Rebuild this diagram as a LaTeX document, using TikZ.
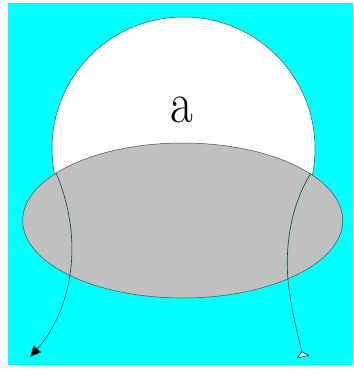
\documentclass[tikz,border=0pt]{standalone}
\usetikzlibrary{arrows.meta}
\definecolor{skycyan}{RGB}{0,255,255}
\definecolor{discgray}{RGB}{192,192,192}

\begin{document}
\begin{tikzpicture}[x=1pt,y=-1pt]

        % Frame and background
        \useasboundingbox (0,0) rectangle (353,374);
        \fill[white] (0,0) rectangle (353,374);
        \fill[skycyan] (8,3) rectangle (353,365);

        % Sphere
        \draw[black!70,fill=white,line width=0.5pt] (183.5,148.5) circle (131.5);
        \node[font=\fontsize{58}{58}\selectfont,xscale=0.85,transform shape] (alabel) at (182,110) {a};

        % Disc
        \draw[black!70,fill=discgray,line width=0.5pt] (182.7,220.5)
            ellipse [x radius=160, y radius=77.5];

        % Meeting points of sphere and disc
        \coordinate (leftcut) at (56,173);
        \coordinate (rightcut) at (311,173);
        \coordinate (lefttip) at (30,357);
        \coordinate (righttip) at (303,357);

        % Left curve with filled tip
        \draw[black!75!skycyan,line width=0.6pt,-{Triangle[length=11pt,width=10pt,fill=black]}]
            (leftcut) .. controls (70,205) and (76,245) .. (69,280)
            .. controls (64,310) and (50,335) .. (lefttip);

        % Right curve with open tip
        \draw[black!75!skycyan,line width=0.6pt,-{Triangle[reversed,open,length=6pt,width=13pt,fill=white]}]
            (rightcut) .. controls (291,205) and (285,245) .. (288,280)
            .. controls (291,310) and (298,335) .. (righttip);

    \end{tikzpicture}
\end{document}
